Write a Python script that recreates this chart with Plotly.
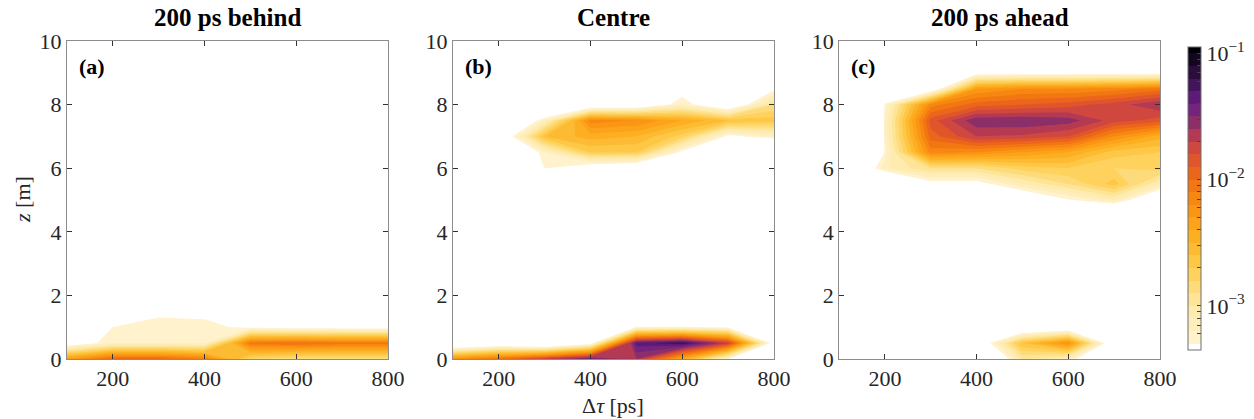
import math
import plotly.graph_objects as go

# Axes of every panel
delay_ps = [100, 200, 300, 400, 500, 600, 700, 800]
height_m = [0.0, 0.5, 1.0, 1.5, 2.0, 2.5, 3.0, 3.5, 4.0, 4.5, 5.0,
            5.5, 6.0, 6.5, 7.0, 7.5, 8.0, 8.5, 9.0, 9.5, 10.0]

titles = ["200 ps behind", "Centre", "200 ps ahead"]
letters = ["(a)", "(b)", "(c)"]

# log10 of the signal, one row per height, one column per delay
E = -4.0
log_behind = [
    [-2.3, -1.95, -1.95, -2.1, -2.8, -2.9, -2.9, -2.9],
    [-3.5, -3.2, -3.2, -3.2, -2.05, -2.0, -2.05, -2.05],
    [E, -3.29, -3.22, -3.24, -3.35, -3.4, -3.4, -3.4],
    [E, E, -3.35, -3.36, E, E, E, E],
    [E] * 8, [E] * 8, [E] * 8, [E] * 8, [E] * 8, [E] * 8, [E] * 8,
    [E] * 8, [E] * 8, [E] * 8, [E] * 8, [E] * 8, [E] * 8, [E] * 8,
    [E] * 8, [E] * 8, [E] * 8,
]
log_centre = [
    [-2.2, -2.0, -1.7, -1.4, -1.6, -2.4, -3.3, E],
    [-3.8, -3.6, -3.8, -3.4, -1.35, -1.2, -1.7, -3.45],
    [E, E, E, E, -3.28, -3.28, -3.32, E],
    [E] * 8, [E] * 8, [E] * 8, [E] * 8, [E] * 8, [E] * 8, [E] * 8,
    [E] * 8, [E] * 8,
    [E, E, -3.29, -3.5, -3.6, E, E, E],
    [E, E, -3.2, -2.7, -2.7, -3.35, E, E],
    [E, -3.6, -2.6, -2.45, -2.5, -2.75, -3.35, -3.2],
    [E, E, -3.15, -2.15, -2.2, -2.4, -2.6, -2.65],
    [E, E, E, -3.59, -3.58, -3.2, -3.6, -2.9],
    [E, E, E, E, E, -3.4, E, -3.34],
    [E] * 8, [E] * 8, [E] * 8,
]
log_ahead = [
    [E, E, E, E, -3.0, -3.15, E, E],
    [E, E, E, -3.6, -2.6, -2.2, -3.575, E],
    [E, E, E, E, -3.7, -3.575, E, E],
    [E] * 8, [E] * 8, [E] * 8, [E] * 8, [E] * 8, [E] * 8, [E] * 8,
    [E, E, E, E, -3.6, -3.32, -3.1, -3.7],
    [E, E, -3.4, -3.4, -3.1, -2.9, -2.65, -3.1],
    [E, -3.125, -2.9, -2.9, -2.75, -2.7, -2.8, -2.75],
    [-8, -3.25, -2.15, -2.2, -2.3, -2.4, -2.65, -2.7],
    [-8, -3.2, -1.95, -1.7, -1.72, -1.8, -2.2, -2.45],
    [-8, -3.2, -1.85, -1.52, -1.51, -1.55, -1.75, -1.85],
    [-8, -3.25, -2.15, -1.95, -1.9, -1.85, -1.75, -1.6],
    [-8, E, -3.55, -2.3, -2.2, -2.2, -2.15, -2.05],
    [-8, -8, E, -3.4, -3.4, -3.4, -3.4, -3.4],
    [E] * 8, [E] * 8,
]
panels = [log_behind, log_centre, log_ahead]

# contour levels (log10 units)
lev_start, lev_end, lev_size = -3.3, -1.0, 0.1
n_lev = int(round((lev_end - lev_start) / lev_size)) + 1
lo = lev_start - lev_size / 2
hi = lev_start + (n_lev - 0.5) * lev_size

# colour anchors given in log10 units
anchors = [
    (lo, "#ffffff"), (-3.25, "#fff2cc"), (-3.0, "#fee9a6"), (-2.7, "#fecd4e"),
    (-2.45, "#fdaf22"), (-2.2, "#fa9010"), (-2.0, "#f06e12"), (-1.85, "#e0562a"),
    (-1.7, "#c8404a"), (-1.55, "#8c2e68"), (-1.40, "#6a1f88"), (-1.2, "#35104a"),
    (hi, "#000004"),
]
cscale = [[(v - lo) / (hi - lo), c] for v, c in anchors]

# colour bar ticks: labelled decades plus unlabelled minor ticks
cb_vals, cb_text = [], []
for dec in (-4, -3, -2):
    for m in range(1, 10):
        v = dec + math.log10(m)
        if -3.3 <= v <= -1.0:
            cb_vals.append(v)
            cb_text.append(f"10<sup>\u2212{-dec}</sup>" if m == 1 else "")
cb_vals.append(-1.0)
cb_text.append("10<sup>\u22121</sup>")

x_dom = [(0.0534, 0.3094), (0.3612, 0.6172), (0.6691, 0.9250)]
y_dom = (0.1432, 0.9021)

font_fam = "Liberation Serif"
fig = go.Figure()

for i, data in enumerate(panels):
    sfx = "" if i == 0 else str(i + 1)
    fig.add_trace(go.Contour(
        x=delay_ps, y=height_m, z=data,
        xaxis="x" + sfx, yaxis="y" + sfx,
        colorscale=cscale,
        contours=dict(start=lev_start, end=lev_end, size=lev_size,
                      coloring="fill", showlines=False),
        line=dict(width=0, smoothing=0),
        showscale=(i == 2),
        colorbar=dict(
            x=0.9474, xanchor="left", y=0.526, yanchor="middle",
            len=0.723, lenmode="fraction", thickness=13,
            xpad=0, ypad=0,
            outlinecolor="#6e6e6e", outlinewidth=1,
            tickmode="array", tickvals=cb_vals, ticktext=cb_text,
            ticks="inside", ticklen=4, tickcolor="#444444",
            tickfont=dict(family=font_fam, size=22, color="#262626"),
        ),
        hoverinfo="skip",
    ))

    axis_common = dict(
        showgrid=True, gridcolor="#e4e4e4", gridwidth=1,
        showline=True, linecolor="#8c8c8c", linewidth=1, mirror="ticks",
        ticks="inside", ticklen=5, tickcolor="#333333",
        tickfont=dict(family=font_fam, size=22, color="#262626"),
        zeroline=False,
    )
    fig.layout["xaxis" + sfx] = dict(
        axis_common, domain=list(x_dom[i]), range=[100, 800],
        tickvals=[200, 400, 600, 800], anchor="y" + sfx,
    )
    fig.layout["yaxis" + sfx] = dict(
        axis_common, domain=list(y_dom), range=[0, 10],
        tickvals=[0, 2, 4, 6, 8, 10], anchor="x" + sfx,
    )

    cx = (x_dom[i][0] + x_dom[i][1]) / 2
    fig.add_annotation(
        text=f"<b>{titles[i]}</b>", xref="paper", yref="paper",
        x=cx, y=0.921, xanchor="center", yanchor="bottom", showarrow=False,
        font=dict(family=font_fam, size=25, color="#000000"),
    )
    fig.add_annotation(
        text=f"<b>{letters[i]}</b>", xref="x" + sfx + " domain", yref="y" + sfx + " domain",
        x=0.03, y=0.965, xanchor="left", yanchor="top", showarrow=False,
        font=dict(family=font_fam, size=22, color="#000000"),
    )

fig.add_annotation(
    text="<i>z</i> [m]", xref="paper", yref="paper",
    x=22 / 1254, y=y_dom[0] + (y_dom[1] - y_dom[0]) / 2,
    xanchor="center", yanchor="middle", textangle=-90, showarrow=False,
    font=dict(family=font_fam, size=22, color="#262626"),
)
fig.add_annotation(
    text="\u0394<i>\u03c4</i> [ps]", xref="paper", yref="paper",
    x=(x_dom[1][0] + x_dom[1][1]) / 2, y=1 - 405 / 419,
    xanchor="center", yanchor="middle", showarrow=False,
    font=dict(family=font_fam, size=22, color="#262626"),
)

fig.update_layout(
    width=1254, height=419,
    margin=dict(l=0, r=0, t=0, b=0, autoexpand=False),
    paper_bgcolor="white", plot_bgcolor="white",
    showlegend=False,
)

fig.write_html("out.html")
